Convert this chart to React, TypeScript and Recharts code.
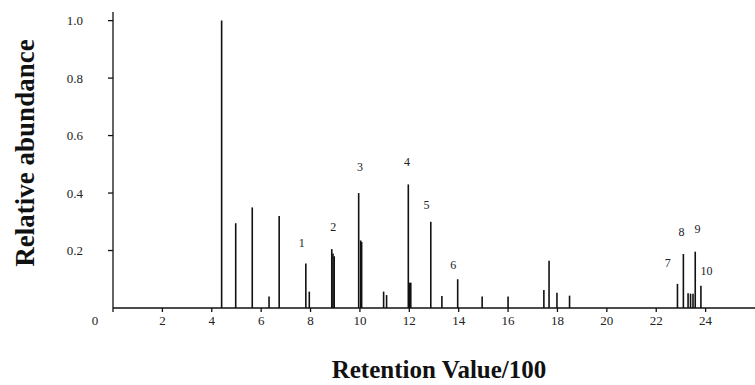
import React from 'react';
import { ComposedChart, Bar, Scatter, XAxis, YAxis, Label } from 'recharts';

// retention value / 100 of each peak and its relative abundance
const retention = [
  4.4, 4.97, 5.64, 6.32, 6.73, 7.81, 7.95, 8.86, 8.91, 8.96,
  9.95, 10.03, 10.07, 10.96, 11.08, 11.96, 12.02, 12.06, 12.87, 13.32,
  13.96, 14.95, 16.0, 17.45, 17.66, 17.98, 18.49, 22.86, 23.1, 23.29,
  23.39, 23.49, 23.58, 23.81,
];
const abundance = [
  1.0, 0.295, 0.35, 0.04, 0.32, 0.155, 0.057, 0.205, 0.19, 0.18,
  0.4, 0.235, 0.23, 0.057, 0.045, 0.43, 0.088, 0.088, 0.3, 0.042,
  0.1, 0.04, 0.04, 0.063, 0.164, 0.053, 0.043, 0.084, 0.188, 0.051,
  0.05, 0.05, 0.196, 0.077,
];

// numbered compound labels
const labelText = ['1', '2', '3', '4', '5', '6', '7', '8', '9', '10'];
const labelX = [7.64, 8.92, 10.0, 11.91, 12.7, 13.78, 22.47, 23.02, 23.67, 24.04];
const labelY = [0.228, 0.283, 0.49, 0.51, 0.36, 0.15, 0.158, 0.264, 0.274, 0.129];

const xTicks = [0, 2, 4, 6, 8, 10, 12, 14, 16, 18, 20, 22, 24];
const yTicks = [0.2, 0.4, 0.6, 0.8, 1.0];

const peaks = retention.map((x, i) => ({ x, y: abundance[i] }));
const labels = labelText.map((text, i) => ({ x: labelX[i], y: labelY[i], text }));

const FONT = '"Liberation Serif", "Times New Roman", serif';

const XTick = (props: any) => {
  const { x, y, payload } = props;
  const shift = payload.value === 0 ? -18 : 0;
  return (
    <text x={x + shift} y={y} dy="0.71em" textAnchor="middle" fontFamily={FONT} fontSize={13} fill="#222">
      {payload.value}
    </text>
  );
};

// a peak is drawn as a thin vertical stick
const Stick = (props: any) => {
  const { x, y, width, height } = props;
  const cx = x + width / 2;
  return <line x1={cx} x2={cx} y1={y} y2={y + height} stroke="#111" strokeWidth={1.6} />;
};

const PeakLabel = (props: any) => {
  const { cx, cy, payload } = props;
  return (
    <text x={cx} y={cy} dy="0.35em" textAnchor="middle" fontFamily={FONT} fontSize={12} fill="#222">
      {payload.text}
    </text>
  );
};

const YTitle = () => (
  <text
    transform="rotate(-90, 25, 153)"
    x={25}
    y={153}
    dy="0.35em"
    textAnchor="middle"
    fontFamily={FONT}
    fontSize={27}
    fontWeight="bold"
    fill="#111"
  >
    Relative abundance
  </text>
);

export default function App() {
  return (
    <div style={{ position: 'absolute', left: 0, top: 0, background: '#fff' }}>
      <ComposedChart
        width={755}
        height={385}
        data={peaks}
        margin={{ top: 12, right: 0, left: 73, bottom: 47 }}
      >
        <XAxis
          dataKey="x"
          type="number"
          domain={[0, 26]}
          ticks={xTicks}
          tick={<XTick />}
          tickSize={4}
          tickMargin={4}
          height={30}
          stroke="#111"
          strokeWidth={1.3}
          allowDataOverflow
        >
          <Label
            value="Retention Value/100"
            position="bottom"
            offset={22}
            dx={5}
            style={{ fontFamily: FONT, fontSize: 25, fontWeight: 'bold', fill: '#111' }}
          />
        </XAxis>
        <YAxis
          type="number"
          domain={[0, 1.03]}
          ticks={yTicks}
          tickFormatter={(v) => v.toFixed(1)}
          tick={{ fontFamily: FONT, fontSize: 13, fill: '#222' }}
          tickSize={5}
          tickMargin={25}
          width={40}
          stroke="#111"
          strokeWidth={1.3}
          allowDataOverflow
        >
          <Label content={<YTitle />} />
        </YAxis>
        <Bar dataKey="y" barSize={2} fill="#111" shape={<Stick />} isAnimationActive={false} />
        <Scatter data={labels} dataKey="y" shape={<PeakLabel />} isAnimationActive={false} />
      </ComposedChart>
    </div>
  );
}
